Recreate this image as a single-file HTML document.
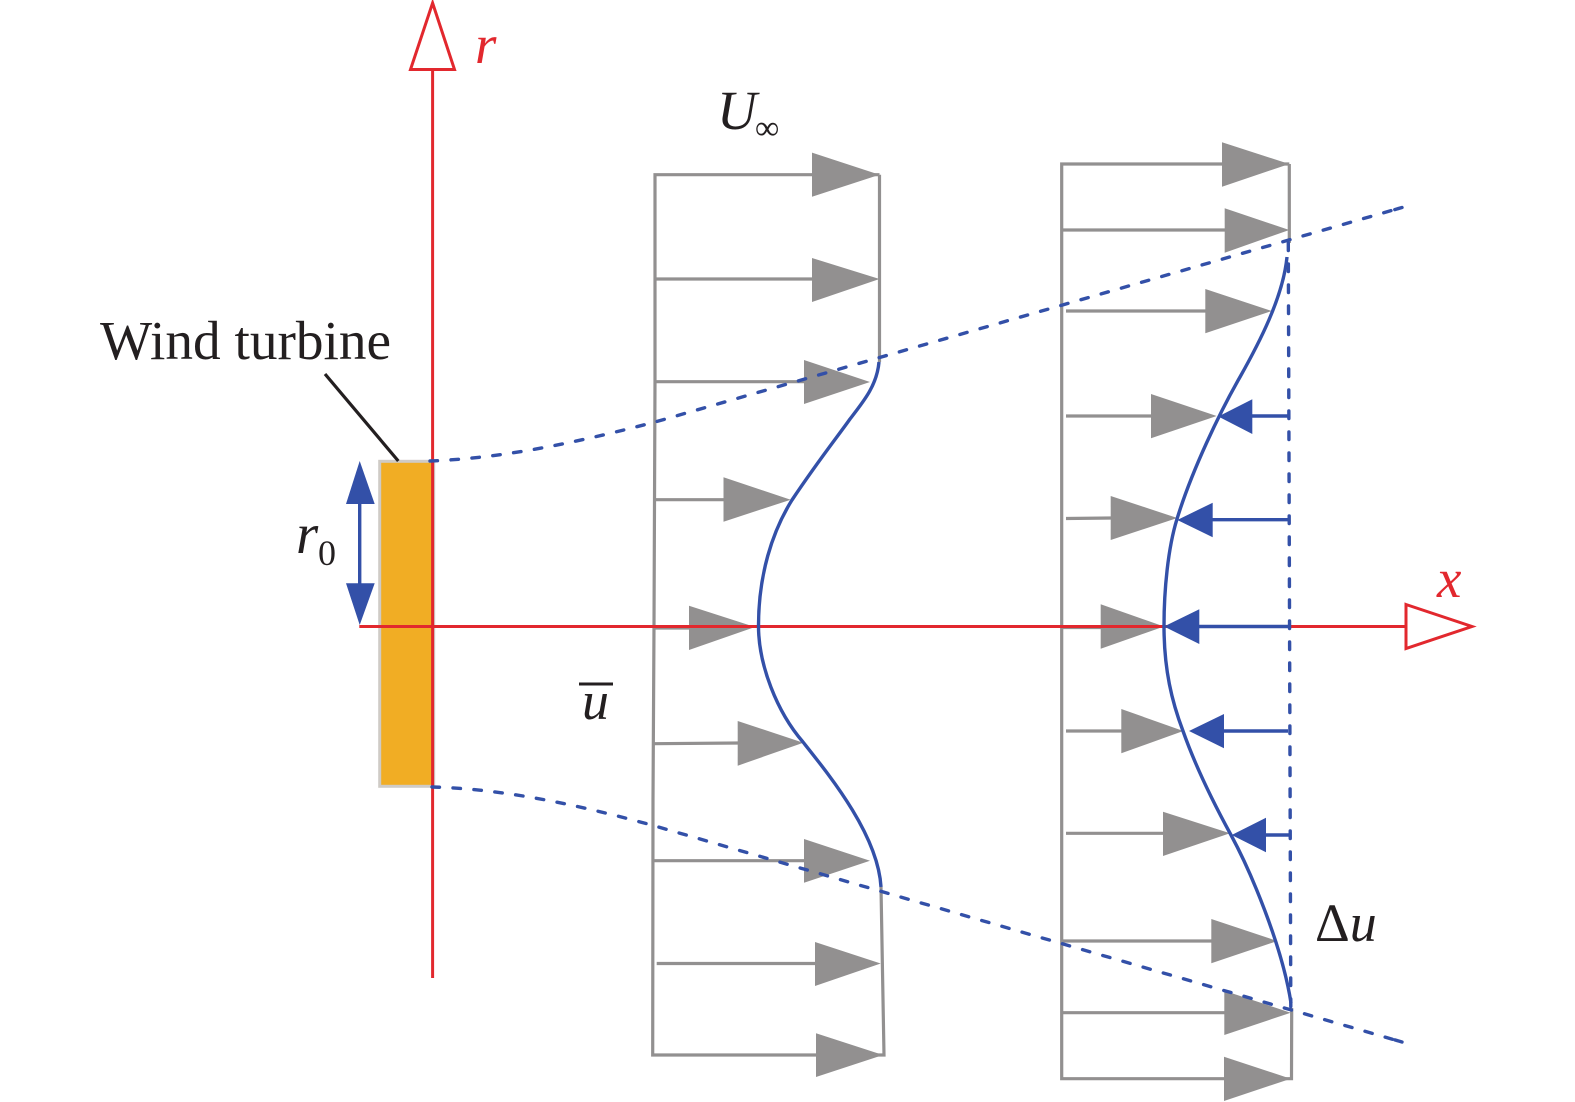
<!DOCTYPE html>
<html>
<head>
<meta charset="utf-8">
<style>
html,body{margin:0;padding:0;background:#fff;}
svg{display:block;}
text{font-family:"Liberation Serif",serif;fill:#231f20;}
</style>
</head>
<body>
<svg width="1575" height="1102" viewBox="0 0 1575 1102" xmlns="http://www.w3.org/2000/svg">
<rect width="1575" height="1102" fill="#fff"/>

<!-- turbine -->
<rect x="379.7" y="461.3" width="54" height="325" fill="#f1ad24" stroke="#cfcbc6" stroke-width="3"/>

<!-- gray frames -->
<g fill="none" stroke="#929090" stroke-width="3.2">
<polyline points="879.5,174.7 655,174.7 655,381 654,626 653,800 652.7,1055 884,1055 881,887"/>
<line x1="879.5" y1="174.7" x2="879.5" y2="362"/>
<line x1="655" y1="279" x2="815" y2="279"/>
<line x1="655" y1="381.7" x2="806" y2="381.7"/>
<line x1="655" y1="499.7" x2="726" y2="499.7"/>
<line x1="654" y1="628" x2="692" y2="628"/>
<line x1="654" y1="743.7" x2="740" y2="743"/>
<line x1="654" y1="860.7" x2="806" y2="860.7"/>
<line x1="656.7" y1="963.5" x2="817" y2="963.5"/>
<polyline points="1289.3,164 1061.7,164 1061.7,1078.7 1291.5,1078.7 1291.7,1008"/>
<line x1="1289.3" y1="164" x2="1289.3" y2="243"/>
<line x1="1061.7" y1="230" x2="1227" y2="230"/>
<line x1="1066" y1="311" x2="1207" y2="311"/>
<line x1="1066" y1="416" x2="1153" y2="416"/>
<line x1="1066" y1="518.5" x2="1112" y2="518"/>
<line x1="1061.7" y1="627.5" x2="1102" y2="627.5"/>
<line x1="1066" y1="731" x2="1123" y2="731"/>
<line x1="1066" y1="833.3" x2="1165" y2="833.3"/>
<line x1="1061.7" y1="941" x2="1213" y2="941"/>
<line x1="1061.7" y1="1012.7" x2="1226" y2="1012.7"/>
</g>

<!-- gray arrowheads -->
<g fill="#929090">
<polygon points="812,152.6 879.5,174.7 812,196.8"/>
<polygon points="812,258 879.5,279 812,302"/>
<polygon points="804,360 870,382 804,404"/>
<polygon points="723.5,477.3 790.7,499.7 723.5,521.7"/>
<polygon points="689,605.7 755,627 689,650"/>
<polygon points="737.7,721 803.3,742.7 737.7,765.7"/>
<polygon points="804,839 870,860.7 804,882.7"/>
<polygon points="815,942 880.7,963.5 815,986"/>
<polygon points="816,1033.3 883,1055 816,1077"/>
<polygon points="1222,142.3 1289.3,164 1222,186.7"/>
<polygon points="1224.7,208.3 1289.3,230 1224.7,252.7"/>
<polygon points="1205.3,289 1271.7,311 1205.3,333.3"/>
<polygon points="1151,394 1216.7,416 1151,438.3"/>
<polygon points="1110.7,496 1177.3,518 1110.7,540"/>
<polygon points="1100.7,604.3 1164,626.5 1100.7,648.7"/>
<polygon points="1121.3,709 1183.3,731 1121.3,753.3"/>
<polygon points="1163,811.7 1230,833.3 1163,856"/>
<polygon points="1211.3,919 1277.3,941 1211.3,963.3"/>
<polygon points="1224.3,990.7 1290.7,1012.7 1224.3,1035"/>
<polygon points="1224,1056.7 1290.7,1078.7 1224,1101"/>
</g>

<!-- red axes -->
<g fill="none" stroke="#e2282e" stroke-width="3">
<line x1="432.6" y1="69" x2="432.6" y2="978"/>
<line x1="359.3" y1="626.5" x2="1406" y2="626.5"/>
<polygon points="432.6,3 454.5,69.5 410.5,69.5" fill="#fff"/>
<polygon points="1406,604.5 1472,626.5 1406,648.5" fill="#fff"/>
</g>

<!-- blue dashed -->
<g fill="none" stroke="#3350a8" stroke-width="3.4" stroke-dasharray="7.5 13.5" stroke-linecap="round">
<path d="M430,461 C510,458 590,439 655,422 L1402,207.5"/>
<path d="M432,787 C510,789 590,808 655,826 L1402,1042"/>
<path d="M1402,207.5 L1385,212.4"/>
<path d="M1402,1042 L1385,1037"/>
<line x1="1288.3" y1="243" x2="1290.8" y2="1008"/>
</g>

<!-- blue curves -->
<g fill="none" stroke="#3350a8" stroke-width="3.4">
<path d="M879,362 C877,385 864,401 850,419 C838,436 818,461 792,500 C772,532 758.5,575 758.5,626 C758.5,665 777,712 803,742 C830,776 878,835 881,887"/>
<path d="M1287,257 C1283,298 1258,345 1240,377 C1220,412 1192,470 1177,519 C1168,548 1164,590 1164,626 C1164,670 1172,702 1183,731 C1195,765 1213,802 1231,835 C1250,870 1282,945 1291,1003"/>
<line x1="1245" y1="416" x2="1289.3" y2="416"/>
<line x1="1205" y1="519.7" x2="1289.7" y2="519.7"/>
<line x1="1195" y1="626.5" x2="1290" y2="626.5"/>
<line x1="1218" y1="731" x2="1288" y2="731"/>
<line x1="1260" y1="835" x2="1290" y2="835"/>
<line x1="359.7" y1="495" x2="359.7" y2="590"/>
</g>

<g fill="#3350a8">
<polygon points="1218.3,416.5 1252.3,399.3 1252.3,434"/>
<polygon points="1177.3,520 1212.7,502.7 1212.7,537.3"/>
<polygon points="1164,626.5 1199.3,609.3 1199.3,644"/>
<polygon points="1189,731 1224,714 1224,748.3"/>
<polygon points="1231.7,835 1266,817.7 1266,852.3"/>
<polygon points="359.7,461 374.7,504 346,504"/>
<polygon points="359.7,625 374.7,583.3 346,583.3"/>
</g>

<!-- leader -->
<line x1="325" y1="374" x2="398.3" y2="461" stroke="#231f20" stroke-width="3.2"/>

<!-- labels -->
<text x="100" y="359" font-size="55.3">Wind turbine</text>
<text x="475" y="63" font-size="55" font-style="italic" style="fill:#e2282e">r</text>
<text x="1437" y="597" font-size="55" font-style="italic" style="fill:#e2282e">x</text>
<text x="717" y="129" font-size="55" font-style="italic">U</text>
<text x="755" y="139" font-size="34">∞</text>
<text x="296" y="553" font-size="57" font-style="italic">r</text>
<text x="318" y="565" font-size="36">0</text>
<text x="582" y="719" font-size="54" font-style="italic">u</text>
<line x1="579" y1="684" x2="613" y2="684" stroke="#231f20" stroke-width="3"/>
<text x="1315" y="941" font-size="54">Δ<tspan font-style="italic">u</tspan></text>
</svg>
</body>
</html>
